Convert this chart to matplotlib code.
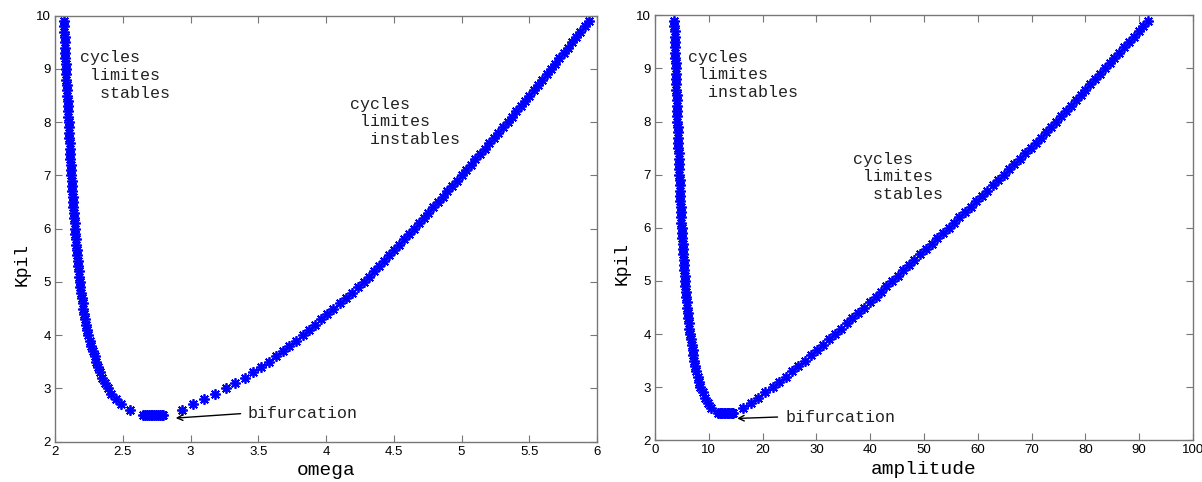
import numpy as np
import matplotlib
matplotlib.use("Agg")
import matplotlib.pyplot as plt

# Kpil levels of the two branches
K_levels = [2.6, 2.7, 2.8, 2.9, 3.0, 3.1, 3.2, 3.3, 3.4, 3.5,
            3.6, 3.7, 3.8, 3.9, 4.0, 4.1, 4.2, 4.3, 4.4, 4.5,
            4.6, 4.7, 4.8, 4.9, 5.0, 5.1, 5.2, 5.3, 5.4, 5.5,
            5.6, 5.7, 5.8, 5.9, 6.0, 6.1, 6.2, 6.3, 6.4, 6.5,
            6.6, 6.7, 6.8, 6.9, 7.0, 7.1, 7.2, 7.3, 7.4, 7.5,
            7.6, 7.7, 7.8, 7.9, 8.0, 8.1, 8.2, 8.3, 8.4, 8.5,
            8.6, 8.7, 8.8, 8.9, 9.0, 9.1, 9.2, 9.3, 9.4, 9.5,
            9.6, 9.7, 9.8, 9.9]

omega_stable = [2.55, 2.49, 2.45, 2.415, 2.39, 2.37, 2.35, 2.335, 2.32, 2.305,
                2.292, 2.28, 2.268, 2.256, 2.245, 2.237, 2.229, 2.222, 2.215, 2.209,
                2.203, 2.197, 2.192, 2.187, 2.183, 2.179, 2.175, 2.171, 2.167, 2.163,
                2.16, 2.156, 2.153, 2.15, 2.147, 2.144, 2.141, 2.138, 2.136, 2.133,
                2.131, 2.128, 2.126, 2.123, 2.121, 2.119, 2.117, 2.114, 2.112, 2.11,
                2.108, 2.106, 2.104, 2.102, 2.1, 2.098, 2.096, 2.094, 2.092, 2.09,
                2.088, 2.086, 2.084, 2.082, 2.08, 2.078, 2.077, 2.075, 2.073, 2.072,
                2.07, 2.068, 2.067, 2.065]

omega_unstable = [2.94, 3.02, 3.10, 3.18, 3.26, 3.33, 3.40, 3.46, 3.52, 3.58,
                  3.63, 3.68, 3.73, 3.78, 3.83, 3.875, 3.92, 3.965, 4.01, 4.055,
                  4.10, 4.145, 4.19, 4.235, 4.28, 4.318, 4.355, 4.392, 4.429, 4.466,
                  4.503, 4.54, 4.577, 4.613, 4.65, 4.685, 4.72, 4.755, 4.79, 4.825,
                  4.86, 4.895, 4.93, 4.965, 5.00, 5.034, 5.068, 5.102, 5.136, 5.17,
                  5.204, 5.238, 5.272, 5.306, 5.34, 5.372, 5.404, 5.436, 5.468, 5.50,
                  5.532, 5.564, 5.596, 5.628, 5.66, 5.691, 5.722, 5.753, 5.784, 5.815,
                  5.846, 5.877, 5.908, 5.939]

amp_unstable = [10.5, 9.85, 9.3, 8.85, 8.45, 8.2, 7.95, 7.7, 7.5, 7.3,
                7.14, 6.98, 6.83, 6.66, 6.5, 6.4, 6.3, 6.2, 6.1, 6.01,
                5.92, 5.83, 5.74, 5.66, 5.58, 5.51, 5.44, 5.38, 5.32, 5.26,
                5.2, 5.14, 5.08, 5.02, 4.96, 4.91, 4.87, 4.82, 4.78, 4.74,
                4.7, 4.66, 4.62, 4.58, 4.55, 4.51, 4.47, 4.43, 4.39, 4.36,
                4.32, 4.28, 4.24, 4.2, 4.17, 4.14, 4.11, 4.07, 4.04, 4.01,
                3.98, 3.94, 3.91, 3.88, 3.85, 3.82, 3.79, 3.77, 3.74, 3.71,
                3.68, 3.65, 3.63, 3.6]

amp_stable = [16.3, 17.8, 19.2, 20.5, 21.9, 23.1, 24.3, 25.5, 26.6, 27.8,
              29.0, 30.1, 31.2, 32.3, 33.4, 34.5, 35.6, 36.7, 37.8, 38.9,
              40.0, 41.0, 42.0, 43.0, 44.0, 45.1, 46.1, 47.2, 48.2, 49.3,
              50.4, 51.4, 52.5, 53.5, 54.6, 55.6, 56.6, 57.7, 58.7, 59.7,
              60.7, 61.7, 62.8, 63.8, 64.8, 65.8, 66.8, 67.8, 68.8, 69.8,
              70.8, 71.7, 72.7, 73.6, 74.6, 75.5, 76.4, 77.3, 78.2, 79.1,
              80.0, 80.9, 81.8, 82.7, 83.6, 84.5, 85.4, 86.3, 87.2, 88.1,
              89.0, 89.9, 90.8, 91.7]

# points bunched at the bifurcation
K_bif = [2.51] * 12
omega_bif = [2.65, 2.664, 2.678, 2.691, 2.705, 2.718, 2.732, 2.746, 2.76, 2.773, 2.787, 2.80]
amp_bif = [11.8, 12.05, 12.3, 12.55, 12.8, 13.05, 13.3, 13.55, 13.8, 14.05, 14.3, 14.55]

mono = "Liberation Mono"
sans = "Liberation Sans"
star = (8, 2, 0)
txt_color = "#222222"


def style_axes(ax):
    for s in ax.spines.values():
        s.set_color("#777777")
        s.set_linewidth(1.0)
    ax.tick_params(direction="in", top=True, right=True, length=5,
                   color="#777777", labelsize=9.5, pad=3)
    for lab in ax.get_xticklabels() + ax.get_yticklabels():
        lab.set_family(sans)
    ax.set_ylim(2, 10)
    ax.set_yticks(range(2, 11))


def draw(ax, x_stable, x_unstable, x_bif):
    for xs, ks in ((x_stable, K_levels), (x_unstable, K_levels), (x_bif, K_bif)):
        ax.plot(xs, ks, linestyle="none", marker=star, color="blue",
                markersize=7.5, markeredgewidth=1.3)


fig = plt.figure(figsize=(12.02, 4.82), dpi=100)

ax1 = fig.add_axes([0.0458, 0.0836, 0.4509, 0.884])
draw(ax1, omega_stable, omega_unstable, omega_bif)
ax1.set_xlim(2, 6)
ax1.set_xticks([2, 2.5, 3, 3.5, 4, 4.5, 5, 5.5, 6])
ax1.set_xticklabels(["2", "2.5", "3", "3.5", "4", "4.5", "5", "5.5", "6"])
style_axes(ax1)
ax1.set_xlabel("omega", family=mono, fontsize=14, labelpad=3)
ax1.set_ylabel("Kpil", family=mono, fontsize=13)
ax1.yaxis.set_label_coords(-0.045, 0.417)
ax1.text(2.185, 9.35, "cycles\n limites\n  stables", family=mono, fontsize=12,
         va="top", ha="left", linespacing=1.22, color=txt_color)
ax1.text(4.18, 8.48, "cycles\n limites\n  instables", family=mono, fontsize=12,
         va="top", ha="left", linespacing=1.22, color=txt_color)
ax1.annotate("", xy=(2.87, 2.44), xytext=(3.39, 2.53),
             arrowprops=dict(arrowstyle="->", color="black", lw=1.0))
ax1.text(3.42, 2.53, "bifurcation", family=mono, fontsize=12, va="center",
         ha="left", color=txt_color)

ax2 = fig.add_axes([0.5449, 0.0865, 0.4476, 0.8817])
draw(ax2, amp_stable, amp_unstable, amp_bif)
ax2.set_xlim(0, 100)
ax2.set_xticks(range(0, 101, 10))
style_axes(ax2)
ax2.set_xlabel("amplitude", family=mono, fontsize=14, labelpad=3)
ax2.set_ylabel("Kpil", family=mono, fontsize=13)
ax2.yaxis.set_label_coords(-0.045, 0.417)
ax2.text(6.1, 9.35, "cycles\n limites\n  instables", family=mono, fontsize=12,
         va="top", ha="left", linespacing=1.22, color=txt_color)
ax2.text(36.8, 7.43, "cycles\n limites\n  stables", family=mono, fontsize=12,
         va="top", ha="left", linespacing=1.22, color=txt_color)
ax2.annotate("", xy=(14.75, 2.41), xytext=(23.3, 2.44),
             arrowprops=dict(arrowstyle="->", color="black", lw=1.0))
ax2.text(24.3, 2.42, "bifurcation", family=mono, fontsize=12, va="center",
         ha="left", color=txt_color)

fig.savefig("out.png", dpi=100)
